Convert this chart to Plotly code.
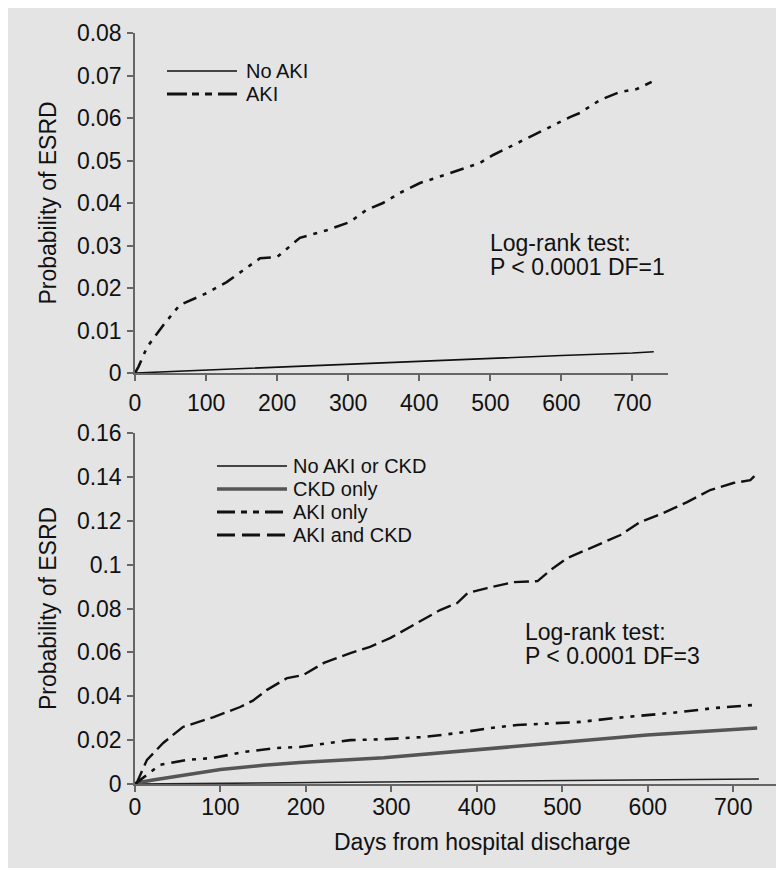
import plotly.graph_objects as go

# ---------------- data ----------------
# Top panel: AKI vs No AKI
top_noaki_days = [0, 100, 200, 300, 400, 500, 600, 700, 730]
top_noaki_prob = [0.0, 0.0007, 0.0013, 0.0020, 0.0027, 0.0034, 0.0041, 0.0047, 0.0050]

top_aki_days = [0, 5, 17, 40, 63, 101, 129, 176, 200, 232, 270, 302, 326, 349, 373, 401,
                443, 471, 485, 504, 546, 570, 612, 626, 654, 682, 706, 727]
top_aki_prob = [0.0, 0.0015, 0.0061, 0.0113, 0.0160, 0.0188, 0.0214, 0.0270, 0.0273, 0.0318,
                0.0336, 0.0355, 0.0384, 0.0400, 0.0424, 0.0447, 0.0470, 0.0485, 0.0494,
                0.0513, 0.0548, 0.0567, 0.0602, 0.0612, 0.0642, 0.0661, 0.0668, 0.0685]

# Bottom panel: AKI / CKD groups
bot_none_days = [0, 100, 200, 300, 400, 500, 600, 700, 730]
bot_none_prob = [0.0, 0.0003, 0.0006, 0.0009, 0.0012, 0.0015, 0.0018, 0.0022, 0.0023]

bot_ckd_days = [0, 2, 21, 61, 100, 150, 193, 291, 400, 501, 599, 728]
bot_ckd_prob = [0.0, 0.0005, 0.0018, 0.0042, 0.0066, 0.0085, 0.0098, 0.0120, 0.0155, 0.0190, 0.0223, 0.0255]

bot_aki_days = [0, 6, 29, 61, 92, 127, 166, 193, 252, 291, 337, 377, 416, 447, 498, 521,
                560, 599, 638, 677, 723]
bot_aki_prob = [0.0, 0.0018, 0.0087, 0.0110, 0.0119, 0.0146, 0.0164, 0.0169, 0.0200, 0.0204,
                0.0214, 0.0232, 0.0255, 0.0269, 0.0278, 0.0283, 0.0300, 0.0314, 0.0328,
                0.0346, 0.0360]

bot_akickd_days = [0, 2, 14, 33, 56, 92, 123, 138, 154, 178, 197, 221, 252, 275, 299, 330,
                   357, 377, 389, 412, 443, 471, 486, 506, 536, 568, 591, 618, 646, 673,
                   700, 720, 729]
bot_akickd_prob = [0.0, 0.0005, 0.0110, 0.0187, 0.0260, 0.0305, 0.0351, 0.0380, 0.0428,
                   0.0483, 0.0497, 0.0552, 0.0597, 0.0625, 0.0666, 0.0734, 0.0793, 0.0825,
                   0.0870, 0.0893, 0.0920, 0.0925, 0.0975, 0.1030, 0.1080, 0.1135, 0.1194,
                   0.1235, 0.1285, 0.1340, 0.1372, 0.1385, 0.1420]

x_ticks = [0, 100, 200, 300, 400, 500, 600, 700]
top_y_ticks = [0, 0.01, 0.02, 0.03, 0.04, 0.05, 0.06, 0.07, 0.08]
top_y_labels = ["0", "0.01", "0.02", "0.03", "0.04", "0.05", "0.06", "0.07", "0.08"]
bot_y_ticks = [0, 0.02, 0.04, 0.06, 0.08, 0.10, 0.12, 0.14, 0.16]
bot_y_labels = ["0", "0.02", "0.04", "0.06", "0.08", "0.1", "0.12", "0.14", "0.16"]

top_legend = ["No AKI", "AKI"]
bot_legend = ["No AKI or CKD", "CKD only", "AKI only", "AKI and CKD"]

# ---------------- styles ----------------
FONT = "Arial, 'Liberation Sans', sans-serif"
FS = 23          # tick labels, titles, notes
FS_LEG = 20      # legend labels
TXT = "#111111"
AXC = "#666666"
BG = "#e4e4e4"
DASHDOTDOT = "14px,7px,4px,7px,4px,7px"
DASHED = "15px,6px"

fig = go.Figure()

def add_line(x, y, xa, ya, color, width, dash, name):
    fig.add_trace(go.Scatter(x=x, y=y, mode="lines", name=name, xaxis=xa, yaxis=ya,
                             line=dict(color=color, width=width, dash=dash),
                             showlegend=False, hoverinfo="x+y+name"))

add_line(top_noaki_days, top_noaki_prob, "x", "y", "#111111", 1.6, "solid", top_legend[0])
add_line(top_aki_days, top_aki_prob, "x", "y", "#111111", 2.6, DASHDOTDOT, top_legend[1])

add_line(bot_none_days, bot_none_prob, "x2", "y2", "#222222", 1.6, "solid", bot_legend[0])
add_line(bot_ckd_days, bot_ckd_prob, "x2", "y2", "#555555", 3.5, "solid", bot_legend[1])
add_line(bot_aki_days, bot_aki_prob, "x2", "y2", "#111111", 2.6, DASHDOTDOT, bot_legend[2])
add_line(bot_akickd_days, bot_akickd_prob, "x2", "y2", "#111111", 2.4, DASHED, bot_legend[3])

# ---------------- geometry ----------------
# The page has an 8px body margin, so the figure starts at page (8, 8).
OFF = 8
W, H = 776, 860
PL, PR, PT, PB = 135, 776, 33, 784         # plot area in page pixels
L, R = PL - OFF, W - (PR - OFF)
T, B = PT - OFF, H - (PB - OFF)
pw, ph = W - L - R, H - T - B

def px2paper_x(px):
    return (px - PL) / pw

def px2paper_y(py):
    return (PB - py) / ph

axis_common = dict(showline=True, linecolor=AXC, linewidth=1.5, ticks="outside",
                   ticklen=6, tickwidth=1.5, tickcolor=AXC, showgrid=False, zeroline=False,
                   tickfont=dict(family=FONT, size=FS, color=TXT))

fig.update_layout(
    width=W, height=H,
    margin=dict(l=L, r=R, t=T, b=B),
    paper_bgcolor=BG,
    plot_bgcolor="rgba(0,0,0,0)",
    font=dict(family=FONT, size=FS, color=TXT),
    xaxis=dict(domain=[0, px2paper_x(668)], range=[0, 750], anchor="y",
               tickvals=x_ticks, ticklabelstandoff=3, **axis_common),
    yaxis=dict(domain=[px2paper_y(373), 1], range=[0, 0.08], anchor="x",
               tickvals=top_y_ticks, ticktext=top_y_labels, ticklabelstandoff=1,
               title=dict(text="Probability of ESRD", standoff=14,
                          font=dict(family=FONT, size=FS, color=TXT)),
               **axis_common),
    xaxis2=dict(domain=[0, 1], range=[0, 750], anchor="y2",
                tickvals=x_ticks, ticklabelstandoff=-4, **axis_common),
    yaxis2=dict(domain=[0, px2paper_y(433)], range=[0, 0.16], anchor="x2",
                tickvals=bot_y_ticks, ticktext=bot_y_labels, ticklabelstandoff=1,
                title=dict(text="Probability of ESRD", standoff=14,
                           font=dict(family=FONT, size=FS, color=TXT)),
                **axis_common),
)

# manual legends
def legend_row(xref, yref, x0, x1, xt, y, text, color, width, dash):
    fig.add_shape(type="line", xref=xref, yref=yref, x0=x0, x1=x1, y0=y, y1=y,
                  line=dict(color=color, width=width, dash=dash))
    fig.add_annotation(xref=xref, yref=yref, x=xt, y=y, text=text, showarrow=False,
                       xanchor="left", yanchor="middle",
                       font=dict(family=FONT, size=FS_LEG, color=TXT))

# top panel legend (domain coords: x 135..668 px, y 33..373 px, page pixels)
tx = lambda p: (p - 135) / 533
ty = lambda p: (373 - p) / 340
legend_row("x domain", "y domain", tx(167), tx(237), tx(244), ty(71), top_legend[0], "#111111", 1.6, "solid")
legend_row("x domain", "y domain", tx(167), tx(237), tx(244), ty(94), top_legend[1], "#111111", 3.0,
           "20px,5px,7px,6px,7px,6px")

# bottom panel legend (domain coords: x 135..776, y 433..784)
bx = lambda p: (p - 135) / 641
by = lambda p: (784 - p) / 351
legend_row("x2 domain", "y2 domain", bx(217), bx(287), bx(291), by(466), bot_legend[0], "#111111", 1.6, "solid")
legend_row("x2 domain", "y2 domain", bx(217), bx(287), bx(291), by(489), bot_legend[1], "#555555", 3.5, "solid")
legend_row("x2 domain", "y2 domain", bx(217), bx(287), bx(291), by(512), bot_legend[2], "#111111", 3.0,
           "18px,6px,6px,6px,6px,6px")
legend_row("x2 domain", "y2 domain", bx(217), bx(287), bx(291), by(535), bot_legend[3], "#111111", 3.0,
           "18px,7px")

# log-rank annotations
def note(xref, yref, x, y, text):
    fig.add_annotation(xref=xref, yref=yref, x=x, y=y, text=text, showarrow=False,
                       xanchor="left", yanchor="middle",
                       font=dict(family=FONT, size=FS, color=TXT))

note("x domain", "y domain", tx(488), ty(243), "Log-rank test:")
note("x domain", "y domain", tx(488), ty(267), "P &lt; 0.0001 DF=1")
note("x2 domain", "y2 domain", bx(523), by(632), "Log-rank test:")
note("x2 domain", "y2 domain", bx(523), by(656), "P &lt; 0.0001 DF=3")

# x-axis title for bottom panel
fig.add_annotation(xref="paper", yref="paper", x=px2paper_x(482), y=px2paper_y(842),
                   text="Days from hospital discharge", showarrow=False,
                   xanchor="center", yanchor="middle",
                   font=dict(family=FONT, size=FS, color=TXT))

fig.write_html("out.html")
